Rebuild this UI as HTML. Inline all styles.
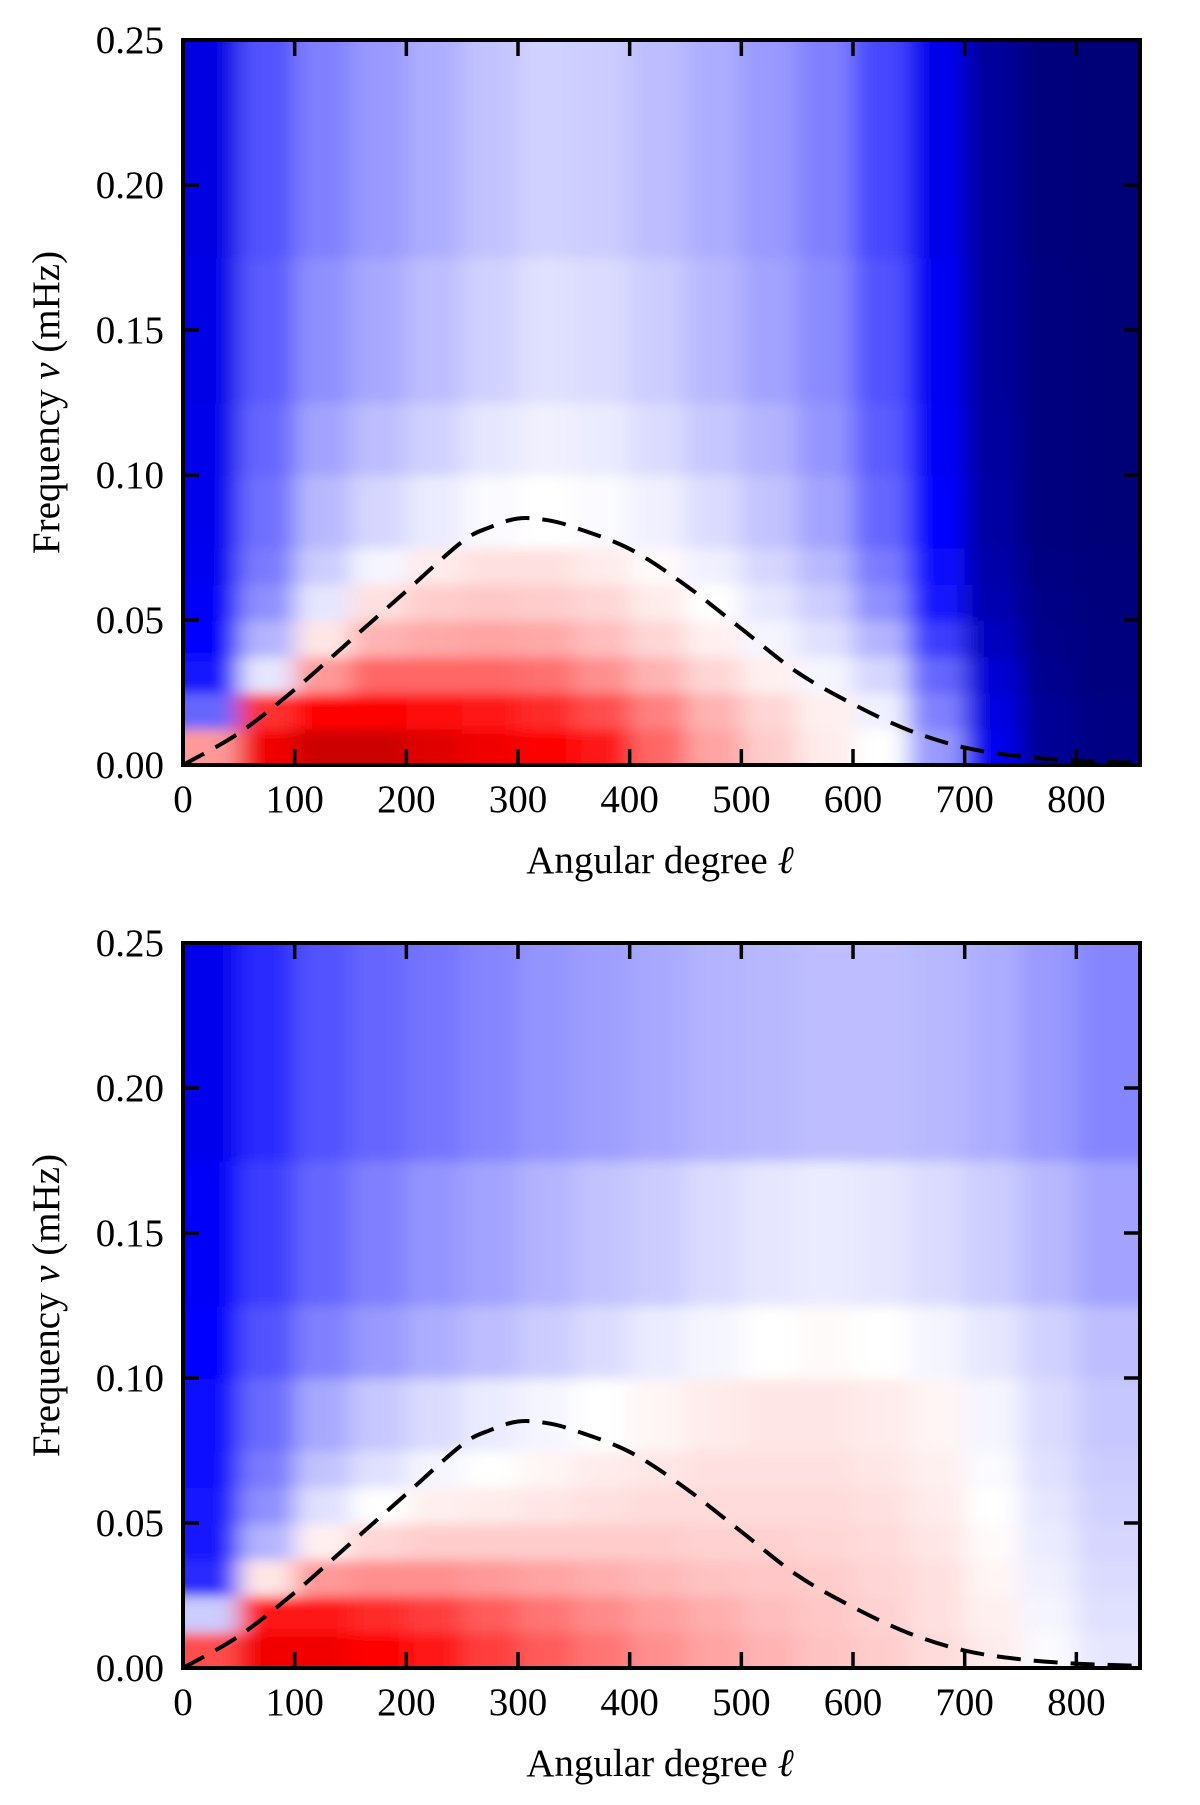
<!DOCTYPE html>
<html><head><meta charset="utf-8"><style>
body{margin:0;background:#fff;}
svg{display:block;font-family:"Liberation Serif",serif;}
</style></head><body>
<svg id="fig" width="1200" height="1805" viewBox="0 0 1200 1805">
<defs>
<filter id="blur" x="-5%" y="-5%" width="110%" height="110%"><feGaussianBlur stdDeviation="12 6"/></filter>
<clipPath id="clipTop"><rect x="183" y="40" width="957" height="725"/></clipPath>
<clipPath id="clipBot"><rect x="183" y="943" width="957" height="725"/></clipPath>
</defs>
</svg>
<script>
// ---- data ----
const lCenters = [25,75,125,175,225,275,325,375,425,475,525,575,625,675,725,775,825];
const nuEdges = [0,0.0125,0.025,0.0375,0.05,0.0625,0.075,0.1,0.125,0.175,0.25];
const topField = [
 [0.2,0.55,0.7,0.7,0.62,0.55,0.5,0.45,0.3,0.18,0.1,0.04,0,-0.2,-0.55,-0.8,-0.85],
 [-0.3,0.4,0.5,0.5,0.48,0.45,0.42,0.35,0.25,0.15,0.08,0.03,-0.03,-0.25,-0.58,-0.8,-0.85],
 [-0.45,-0.05,0.2,0.3,0.3,0.3,0.28,0.22,0.15,0.08,0.03,-0.02,-0.08,-0.3,-0.62,-0.82,-0.86],
 [-0.5,-0.15,0.05,0.15,0.17,0.18,0.17,0.13,0.08,0.03,-0.02,-0.06,-0.15,-0.38,-0.68,-0.83,-0.86],
 [-0.52,-0.22,-0.05,0.06,0.1,0.11,0.1,0.08,0.04,0,-0.05,-0.1,-0.22,-0.45,-0.72,-0.84,-0.87],
 [-0.54,-0.26,-0.1,-0.02,0.04,0.06,0.06,0.04,0.01,-0.03,-0.08,-0.14,-0.26,-0.48,-0.74,-0.85,-0.87],
 [-0.55,-0.28,-0.14,-0.08,-0.04,-0.01,0,-0.01,-0.03,-0.07,-0.12,-0.18,-0.3,-0.5,-0.76,-0.86,-0.88],
 [-0.56,-0.3,-0.18,-0.13,-0.09,-0.05,-0.03,-0.04,-0.07,-0.11,-0.15,-0.21,-0.32,-0.52,-0.77,-0.86,-0.88],
 [-0.57,-0.32,-0.22,-0.17,-0.13,-0.09,-0.06,-0.07,-0.1,-0.14,-0.18,-0.23,-0.34,-0.53,-0.78,-0.86,-0.88],
 [-0.58,-0.34,-0.25,-0.2,-0.16,-0.12,-0.09,-0.1,-0.13,-0.16,-0.2,-0.25,-0.36,-0.55,-0.78,-0.87,-0.88]
];
const botField = [
 [0.35,0.55,0.55,0.5,0.45,0.38,0.32,0.27,0.22,0.18,0.15,0.12,0.1,0.07,0.04,-0.01,-0.05],
 [-0.1,0.45,0.45,0.42,0.38,0.32,0.27,0.23,0.19,0.16,0.13,0.11,0.09,0.06,0.03,-0.02,-0.06],
 [-0.42,0.05,0.2,0.22,0.22,0.2,0.18,0.16,0.14,0.12,0.11,0.1,0.08,0.06,0.02,-0.03,-0.07],
 [-0.45,-0.15,0.03,0.08,0.1,0.1,0.1,0.1,0.1,0.09,0.09,0.08,0.07,0.05,0.01,-0.04,-0.08],
 [-0.46,-0.22,-0.06,0,0.03,0.04,0.05,0.06,0.07,0.07,0.07,0.07,0.06,0.04,0,-0.05,-0.09],
 [-0.47,-0.26,-0.12,-0.06,-0.02,0,0.02,0.04,0.05,0.06,0.06,0.06,0.05,0.03,-0.01,-0.06,-0.1],
 [-0.48,-0.29,-0.17,-0.11,-0.07,-0.04,-0.02,0,0.02,0.04,0.05,0.05,0.04,0.02,-0.02,-0.07,-0.11],
 [-0.5,-0.34,-0.25,-0.2,-0.16,-0.13,-0.1,-0.07,-0.04,-0.02,0,0.01,0,-0.02,-0.05,-0.09,-0.13],
 [-0.52,-0.38,-0.3,-0.25,-0.21,-0.18,-0.15,-0.12,-0.1,-0.07,-0.05,-0.04,-0.05,-0.07,-0.1,-0.14,-0.18],
 [-0.55,-0.42,-0.34,-0.3,-0.27,-0.24,-0.21,-0.19,-0.17,-0.15,-0.14,-0.13,-0.13,-0.14,-0.16,-0.2,-0.24]
];
const curveL = [0,50,100,150,200,250,275,300,325,350,400,450,500,550,600,650,700,750,800,850];
const curveNu = [0,0.011,0.026,0.043,0.06,0.077,0.082,0.085,0.0845,0.082,0.0745,0.062,0.047,0.032,0.021,0.012,0.006,0.003,0.0015,0.0008];
const xTicks = [0,100,200,300,400,500,600,700,800];
const yTicks = [0,0.05,0.10,0.15,0.20,0.25];
const yTickLabels = ["0.00","0.05","0.10","0.15","0.20","0.25"];

// ---- layout ----
const NS="http://www.w3.org/2000/svg";
const svg=document.getElementById('fig');
const X0=183, X1=1140, L0=0, L1=857;
function mk(t,a,p){const e=document.createElementNS(NS,t);for(const k in a)e.setAttribute(k,a[k]);(p||svg).appendChild(e);return e;}
function cmap(v){v=Math.max(-1,Math.min(1,v));let r,g,b;
 if(v<-0.5){const t=(v+1)/0.5;r=0;g=0;b=0.3+0.7*t;}
 else if(v<0){const t=(v+0.5)/0.5;r=t;g=t;b=1;}
 else if(v<0.5){const t=v/0.5;r=1;g=1-t;b=1-t;}
 else{const t=(v-0.5)/0.5;r=1-0.5*t;g=0;b=0;}
 return `rgb(${Math.round(r*255)},${Math.round(g*255)},${Math.round(b*255)})`;}

function panel(top,field,name,clip){
 const bottom=top+725;
 const xs=l=>X0+(l-L0)/(L1-L0)*(X1-X0);
 const ys=n=>bottom-n/0.25*725;
 const g=mk('g',{'clip-path':`url(#${clip})`});
 
 
 const inner=mk('g',{filter:'url(#blur)'},g);
 const nr=nuEdges.length-1;
 field.forEach((row,ri)=>{row.forEach((v,ci)=>{
  const lc=lCenters[ci];
  const x0=xs(lc-25)-(ci==0?40:0), x1=xs(lc+25)+(ci==lCenters.length-1?60:0);
  const y0=ys(nuEdges[ri+1])-(ri==nr-1?40:0), y1=ys(nuEdges[ri])+(ri==0?40:0);
  const c=mk('rect',{x:x0,y:y0,width:x1-x0+1,height:y1-y0+1,fill:cmap(v)},inner);
  
  
 });});
 const P=curveL.map((l,i)=>[xs(l),ys(curveNu[i])]);
 let d=`M${P[0][0]},${P[0][1]}`;
 for(let i=0;i<P.length-1;i++){
  const p0=P[Math.max(0,i-1)],p1=P[i],p2=P[i+1],p3=P[Math.min(P.length-1,i+2)];
  const c1=[p1[0]+(p2[0]-p0[0])/6,p1[1]+(p2[1]-p0[1])/6];
  const c2=[p2[0]-(p3[0]-p1[0])/6,p2[1]-(p3[1]-p1[1])/6];
  d+=` C${c1[0]},${c1[1]} ${c2[0]},${c2[1]} ${p2[0]},${p2[1]}`;
 }
 const cv=mk('path',{d:d,fill:'none',stroke:'#000','stroke-width':4,'stroke-dasharray':'24 13'},g);
 
 
 xTicks.forEach(t=>{const x=xs(t);
  mk('line',{x1:x,x2:x,y1:bottom,y2:bottom-16,stroke:'#000','stroke-width':3.5});
  mk('line',{x1:x,x2:x,y1:top,y2:top+16,stroke:'#000','stroke-width':3.5});
  const tl=mk('text',{x:x,y:bottom+47,'text-anchor':'middle','font-size':39});tl.textContent=t;
  
  
 });
 yTicks.forEach((t,i)=>{const y=ys(t);
  mk('line',{x1:X0,x2:X0+16,y1:y,y2:y,stroke:'#000','stroke-width':3.5});
  mk('line',{x1:X1,x2:X1-16,y1:y,y2:y,stroke:'#000','stroke-width':3.5});
  const tl=mk('text',{x:164,y:y+13,'text-anchor':'end','font-size':39});tl.textContent=yTickLabels[i];
  
  
 });
 const fr=mk('rect',{x:X0,y:top,width:X1-X0,height:725,fill:'none',stroke:'#000','stroke-width':4});
 
 
 const xl=mk('text',{x:660,y:bottom+108,'text-anchor':'middle','font-size':39});
 xl.innerHTML='Angular degree <tspan font-style="italic">ℓ</tspan>';
 
 
 const cy=(top+bottom)/2;
 const yl=mk('text',{x:0,y:0,'text-anchor':'middle','font-size':39,transform:`translate(59,${cy}) rotate(-90)`});
 yl.innerHTML='Frequency <tspan font-style="italic">ν</tspan> (mHz)';
 
 
}
panel(40,topField,'top-panel','clipTop');
panel(943,botField,'bottom-panel','clipBot');
</script>
</body></html>
